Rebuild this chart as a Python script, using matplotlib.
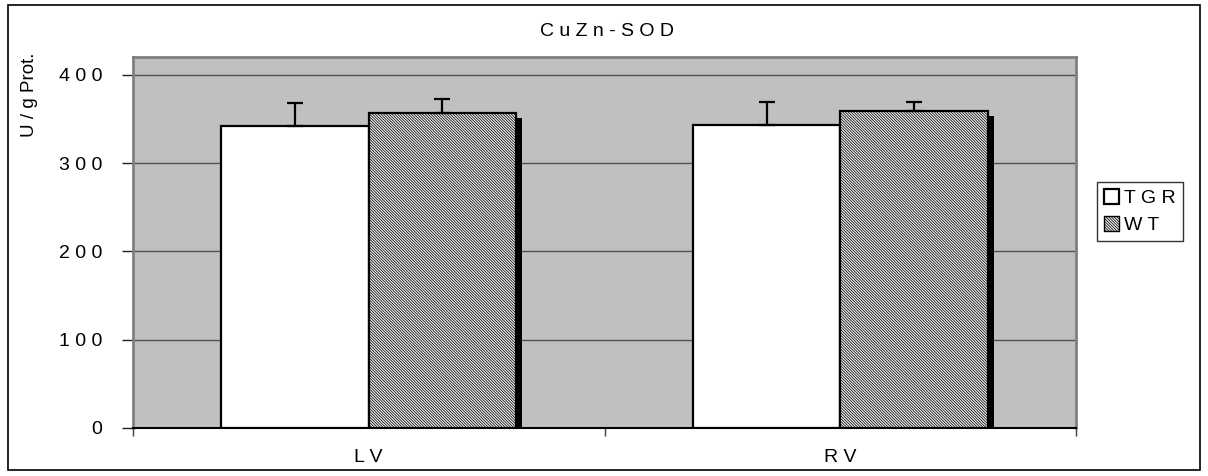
import matplotlib
matplotlib.use("Agg")
import numpy as np
import matplotlib.pyplot as plt
from matplotlib.patches import Rectangle
from matplotlib.transforms import offset_copy

# Data
categories = ["L V", "R V"]
tgr_values = [342, 343]
tgr_errors = [26, 26]
wt_values = [357, 359]
wt_errors = [16, 10]
y_ticks = [0, 100, 200, 300, 400]
y_ticklabels = ["0", "1 0 0", "2 0 0", "3 0 0", "4 0 0"]

plt.rcParams["font.family"] = ["Liberation Sans", "DejaVu Sans"]
plt.rcParams["font.size"] = 14
plt.rcParams["hatch.linewidth"] = 0.55
plt.rcParams["hatch.color"] = "#303030"

fig = plt.figure(figsize=(12.08, 4.76), dpi=100)
ax = fig.add_axes([133 / 1208, 48 / 476, 943 / 1208, 371 / 476])
ax.set_facecolor("#c0c0c0")

x = np.arange(len(categories))
w = 0.3125
hatch = "\\" * 12

# black drop shadow behind the hatched bars
shadow_tr = offset_copy(ax.transData, fig=fig, x=6, y=-5, units="dots")
ax.bar(x + w / 2, wt_values, w, color="black", transform=shadow_tr, zorder=2)

ax.bar(x - w / 2, tgr_values, w, color="white", edgecolor="black", linewidth=1.6, zorder=3)
ax.bar(x + w / 2, wt_values, w, color="#f4f4f4", edgecolor="black", linewidth=1.6,
       hatch=hatch, zorder=3)

ax.errorbar(x - w / 2, tgr_values, yerr=[np.zeros(len(x)), tgr_errors], fmt="none",
            ecolor="black", elinewidth=1.6, capsize=6, capthick=1.6, zorder=4)
ax.errorbar(x + w / 2, wt_values, yerr=[np.zeros(len(x)), wt_errors], fmt="none",
            ecolor="black", elinewidth=1.6, capsize=6, capthick=1.6, zorder=4)

ax.set_xlim(-0.5, 1.5)
ax.set_ylim(0, 420)
ax.set_yticks(y_ticks)
ax.set_yticklabels(y_ticklabels)
ax.yaxis.grid(True, color="#505050", linewidth=1.0)
ax.set_axisbelow(True)

ax.set_xticks(x)
ax.set_xticklabels(categories)
ax.set_xticks([-0.5, 0.5, 1.5], minor=True)
ax.tick_params(axis="x", which="major", length=0, pad=15)
ax.tick_params(axis="x", which="minor", length=6, width=1, color="#404040")
ax.tick_params(axis="y", length=8, width=1, pad=14, color="#202020")

for side in ["left", "top", "right"]:
    ax.spines[side].set_color("#808080")
    ax.spines[side].set_linewidth(2)
ax.spines["bottom"].set_color("black")
ax.spines["bottom"].set_linewidth(1.5)

fig.text(607 / 1208, 1 - 31 / 476, "C u Z n - S O D", ha="center", va="center")
fig.text(29 / 1208, 1 - 95 / 476, "U / g Prot.", rotation=90, ha="center", va="center",
         fontsize=13.5)

handles = [Rectangle((0, 0), 1, 1, facecolor="white", edgecolor="black", linewidth=1.6),
           Rectangle((0, 0), 1, 1, facecolor="#f4f4f4", edgecolor="black", linewidth=1.0,
                     hatch=hatch)]
leg = fig.legend(handles, ["T G R", "W T"], loc="upper left",
                 bbox_to_anchor=(1097 / 1208, 1 - 182 / 476), frameon=True, fancybox=False,
                 handlelength=0.8, handleheight=0.8, handletextpad=0.25,
                 borderpad=0.35, labelspacing=0.45, borderaxespad=0)
leg.get_frame().set_edgecolor("black")
leg.get_frame().set_linewidth(1.0)

# outer chart border
fig.patches.append(Rectangle((8 / 1208, 6 / 476), 1192 / 1208, 465 / 476, fill=False,
                             edgecolor="black", linewidth=1.2, transform=fig.transFigure))

fig.savefig("out.png", dpi=100)
